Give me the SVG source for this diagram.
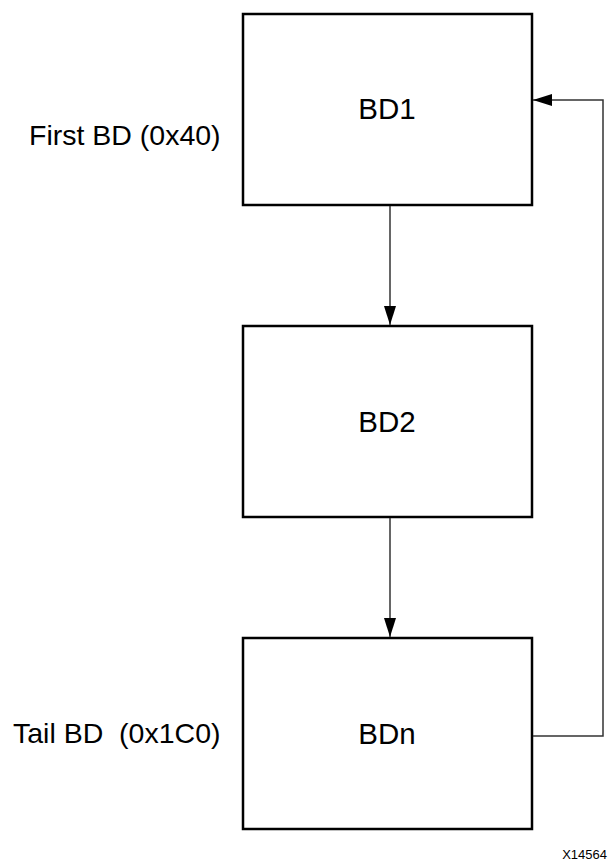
<svg xmlns="http://www.w3.org/2000/svg" width="608" height="861" viewBox="0 0 608 861">
<style>
.box{fill:#fff;stroke:#000;stroke-width:2.5}
.lbl{font-family:"Liberation Sans",Arial,sans-serif;font-size:29.5px;fill:#000}
.side{font-family:"Liberation Sans",Arial,sans-serif;font-size:28.5px;fill:#000}
.ln{fill:none;stroke:#333;stroke-width:1.5}
.tag{font-family:"Liberation Sans",Arial,sans-serif;font-size:13px;fill:#000}
</style>
<defs>
<marker id="ah" markerWidth="19" markerHeight="12" refX="19" refY="6" orient="auto" markerUnits="userSpaceOnUse">
<path d="M0,0 L19,6 L0,12 Z" fill="#000"/>
</marker>
</defs>
<g id="bd1"><rect class="box" x="243" y="14" width="289" height="191"/><text class="lbl" x="387" y="119" text-anchor="middle">BD1</text></g>
<g id="bd2"><rect class="box" x="243" y="326" width="289" height="191"/><text class="lbl" x="387" y="432" text-anchor="middle">BD2</text></g>
<g id="bdn"><rect class="box" x="243" y="638" width="289" height="191"/><text class="lbl" x="387" y="744" text-anchor="middle">BDn</text></g>
<g id="labels">
<text class="side" x="29" y="145">First BD (0x40)</text>
<text class="side" x="13" y="743" xml:space="preserve">Tail BD  (0x1C0)</text>
<text class="tag" x="607" y="859" text-anchor="end">X14564</text>
</g>
<g id="connectors">
<line class="ln" x1="390" y1="206" x2="390" y2="325" marker-end="url(#ah)"/>
<line class="ln" x1="390" y1="518" x2="390" y2="637" marker-end="url(#ah)"/>
<polyline class="ln" points="533,736 603,736 603,100 533,100" marker-end="url(#ah)"/>
</g>
</svg>
